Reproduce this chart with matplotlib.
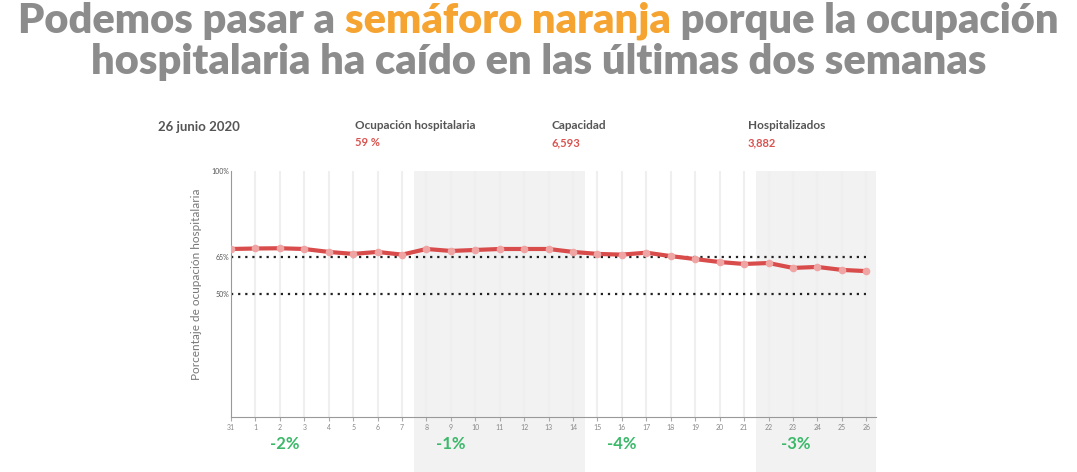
import numpy as np
import matplotlib.pyplot as plt
from matplotlib.patches import Rectangle

# daily hospital occupancy (%), 31 May -> 26 June 2020
days = ['31'] + [str(d) for d in range(1, 27)]
occupancy = [68.3, 68.5, 68.6, 68.3, 67.1, 66.3, 67.1, 66.0, 68.3, 67.5,
             67.9, 68.3, 68.3, 68.3, 67.1, 66.3, 66.0, 66.8, 65.4, 64.2,
             63.0, 62.2, 62.6, 60.6, 61.0, 59.8, 59.3]
thresholds = [65, 50]
week_changes = ['-2%', '-1%', '-4%', '-3%']
week_label_pos = [2.2, 9.0, 16.0, 23.1]
shaded_weeks = [(7.5, 14.5), (21.5, 26.4)]

header_labels = ['Ocupación hospitalaria', 'Capacidad', 'Hospitalizados']
header_values = ['59 %', '6,593', '3,882']

plt.rcParams['font.family'] = ['Lato', 'DejaVu Sans']

fig = plt.figure(figsize=(10.77, 4.72), dpi=100)
fig.patch.set_facecolor('white')

# title, two lines, part of the first in orange
grey_t = '#8c8c8c'
orange = '#f5a431'
title_size = 30
y1 = 1 - 33 / 472
t1 = fig.text(0.012, y1, 'Podemos pasar a ', fontsize=title_size, fontweight='heavy',
              color=grey_t, ha='left', va='baseline')
fig.canvas.draw()
r = fig.canvas.get_renderer()
bb1 = t1.get_window_extent(r)
t2 = fig.text(bb1.x1 / fig.bbox.width, y1, 'semáforo naranja', fontsize=title_size,
              fontweight='heavy', color=orange, ha='left', va='baseline')
fig.canvas.draw()
bb2 = t2.get_window_extent(r)
t3 = fig.text(bb2.x1 / fig.bbox.width, y1, ' porque la ocupación', fontsize=title_size,
              fontweight='heavy', color=grey_t, ha='left', va='baseline')
fig.canvas.draw()
bb3 = t3.get_window_extent(r)
# recentre line 1
total = bb3.x1 - bb1.x0
shift = (fig.bbox.width - total) / 2 - bb1.x0
for t in (t1, t2, t3):
    x, y = t.get_position()
    t.set_position((x + shift / fig.bbox.width, y))

fig.text(0.5, 1 - 74 / 472, 'hospitalaria ha caído en las últimas dos semanas', fontsize=title_size,
         fontweight='heavy', color=grey_t, ha='center', va='baseline')

# header row
fig.text(158 / 1077, 1 - 127 / 472, '26 junio 2020', fontsize=9.5, fontweight='bold',
         color='#555555', va='center')
for i, (lab, val) in enumerate(zip(header_labels, header_values)):
    x = (355 + i * 196.5) / 1077
    fig.text(x, 1 - 125 / 472, lab, fontsize=8.5, fontweight='bold', color='#555555', va='center')
    fig.text(x, 1 - 143 / 472, val, fontsize=8, fontweight='bold', color='#d9534f', va='center')

ax = fig.add_axes([231 / 1077, 1 - 417 / 472, 645 / 1077, 246 / 472])
ax.set_xlim(0, 26.4)
ax.set_ylim(0, 100)
x = np.arange(len(days))

for a, b in shaded_weeks:
    ax.add_patch(Rectangle((a, -0.23), b - a, 1.23, transform=ax.get_xaxis_transform(),
                           facecolor='#f2f2f2', edgecolor='none', clip_on=False, zorder=0))

for xi in x[1:]:
    ax.axvline(xi, color='#efefef', lw=1.5, zorder=0.5)

for th in thresholds:
    ax.plot([0, 26], [th, th], color='#222222', lw=1.6, ls=(0, (1, 2.2)), zorder=2)

ax.plot(x, occupancy, color='#d94c4c', lw=3, zorder=3,
        marker='o', markersize=4.5, markerfacecolor='#f0a5a5', markeredgecolor='#f0a5a5')

ax.set_xticks(x)
ax.set_xticklabels(days, fontsize=5, color='#888888')
ax.set_yticks([50, 65, 100])
ax.set_yticklabels(['50%', '65%', '100%'], fontsize=5, color='#555555')
ax.tick_params(axis='x', length=3, color='#aaaaaa', pad=2)
ax.tick_params(axis='y', length=0, pad=1)
ax.set_ylabel('Porcentaje de ocupación hospitalaria', fontsize=8.5, color='#777777')
ax.yaxis.set_label_coords(-0.045, 0.54)
for s in ['top', 'right']:
    ax.spines[s].set_visible(False)
for s in ['left', 'bottom']:
    ax.spines[s].set_color('#999999')
    ax.spines[s].set_linewidth(0.8)
ax.set_facecolor('none')

for lab, pos in zip(week_changes, week_label_pos):
    ax.text(pos, -0.11, lab, transform=ax.get_xaxis_transform(), ha='center', va='center',
            fontsize=12, fontweight='bold', color='#3cb86a')

fig.savefig('out.png', dpi=100)
